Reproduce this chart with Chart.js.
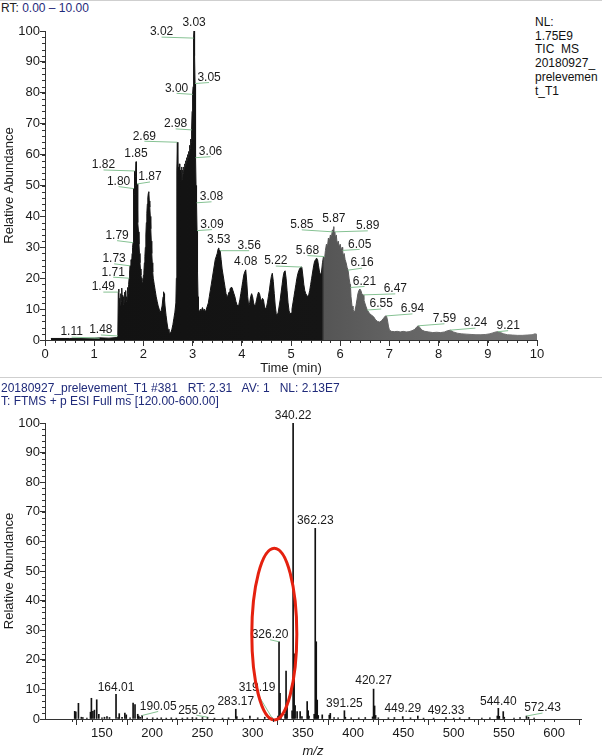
<!DOCTYPE html>
<html>
<head>
<meta charset="utf-8">
<script src="https://cdn.jsdelivr.net/npm/chart.js@4.4.0/dist/chart.umd.min.js"></script>
<style>
  body { margin: 0; background: #fff; font-family: "Liberation Sans", Arial, sans-serif; }
  #wrap { position: relative; width: 602px; height: 755px; overflow: hidden; }
  .txt { position: absolute; font-size: 12px; white-space: pre; line-height: 14px; color: #1f2a7a; }
  .rule { position: absolute; left: 0; width: 602px; height: 1px; background: #cfcfcf; }
  .box { position: absolute; left: 0; width: 602px; }
</style>
</head>
<body>
<div id="wrap">
  <div class="rule" style="top:0"></div>
  <div class="txt" style="left:1px;top:1px"><span style="color:#222">RT:</span> 0.00 – 10.00</div>
  <div class="txt" style="left:535px;top:16px;color:#111;line-height:13.7px">NL:
1.75E9
TIC  MS
20180927_
prelevemen
t_T1</div>
  <div class="box" style="top:0;height:376px"><canvas id="tic" width="602" height="376"></canvas></div>
  <div class="rule" style="top:377px"></div>
  <div class="txt" style="left:1px;top:381px">20180927_prelevement_T1 #381   RT: 2.31   AV: 1   NL: 2.13E7</div>
  <div class="txt" style="left:1px;top:394px">T: FTMS + p ESI Full ms [120.00-600.00]</div>
  <div class="box" style="top:372px;height:387px"><canvas id="ms" width="602" height="387"></canvas></div>
</div>
<script>
// TIC chromatogram: [time (min), relative abundance]
const ticScan = [
  [0.12,0.5],[0.5,0.5],[1.0,0.6],[1.11,0.7],[1.3,0.6],[1.46,0.8],[1.48,1.3],
  [1.49,15.5],[1.50,16.5],[1.51,12],[1.52,13.5],[1.53,11],[1.54,15],[1.55,12.5],[1.56,16.8],[1.57,13],
  [1.58,14.5],[1.59,11.5],[1.60,14],[1.61,12],[1.62,15.5],[1.63,13],[1.64,16],[1.65,12.5],[1.66,14],
  [1.67,13],[1.68,17],[1.69,15],[1.70,18],[1.71,20],[1.72,22],[1.73,24],[1.74,22],[1.75,26],[1.76,24],
  [1.77,28],[1.78,30],[1.79,31.5],[1.80,49],[1.81,47],[1.82,54.7],[1.83,50],[1.84,53],[1.85,57.7],
  [1.86,48],[1.87,50.5],[1.88,42],[1.89,38],[1.90,35],[1.91,31],[1.92,28],[1.93,25],[1.94,23],[1.95,21],
  [1.96,20],[1.97,19],[1.98,18.5],[1.99,19],[2.00,21],[2.01,22],[2.02,25],[2.03,27],[2.04,30],[2.05,34],
  [2.06,38],[2.07,41],[2.08,44],[2.09,46],[2.10,47.5],[2.11,48],[2.12,45],[2.13,43],[2.14,40],[2.15,36],
  [2.16,32],[2.17,28],[2.18,25],[2.19,22],[2.20,20],[2.22,18],[2.24,16],[2.26,14],[2.28,12.5],[2.30,11],
  [2.32,10],[2.34,9],[2.36,9.5],[2.38,11],[2.40,14],[2.41,15.6],[2.42,15],[2.43,13],[2.44,11],[2.46,8],
  [2.48,5.5],[2.50,3.5],[2.52,2.5],[2.54,2.2],[2.56,2.5],[2.58,3.5],[2.60,5],[2.62,7],[2.64,9],[2.66,12],
  [2.67,20],[2.68,55],[2.69,64],[2.70,54],[2.71,56],[2.72,50],[2.73,57],[2.74,53],[2.75,55],[2.76,49],
  [2.77,54],[2.78,56],[2.79,52],[2.80,55],[2.81,54],[2.82,56],[2.83,55],[2.84,57],[2.85,56],[2.86,58],
  [2.87,57],[2.88,59],[2.89,58],[2.90,60],[2.91,59],[2.92,61],[2.93,60],[2.94,63],[2.95,62],[2.96,65],
  [2.97,64],[2.98,68],[2.99,74],[3.00,79.5],[3.01,82],[3.02,97.7],[3.03,100],[3.04,92],[3.05,83],[3.06,59],
  [3.07,50],[3.08,44.4],[3.09,35.4],[3.10,22],[3.11,14],[3.12,10],[3.14,9],[3.16,10],[3.18,9.5],[3.20,10.5],
  [3.22,9.5],[3.24,10],[3.26,9],[3.28,10],[3.30,11],[3.32,12],[3.34,14],[3.36,16],[3.38,18],[3.40,20],
  [3.42,22],[3.44,24],[3.46,26],[3.48,27],[3.50,28],[3.52,29.5],[3.53,29.8],[3.54,29],[3.56,28.9],[3.58,26],
  [3.60,23],[3.62,21],[3.64,19],[3.66,17],[3.68,15],[3.70,14],[3.72,14.5],[3.74,15.5],[3.76,16.5],[3.78,17],
  [3.80,17],[3.82,16],[3.84,15],[3.86,14],[3.88,12.5],[3.90,11.5],[3.92,11],[3.94,11.5],[3.96,13],[3.98,15],
  [4.00,17],[4.02,19],[4.04,21],[4.06,22],[4.08,22.7],[4.10,19],[4.12,14],[4.14,11],[4.16,12],[4.18,14],
  [4.20,15],[4.22,14],[4.24,12],[4.26,11],[4.28,11.5],[4.30,13],[4.32,14.5],[4.34,15.5],[4.36,15],[4.38,13.5],
  [4.40,12.5],[4.42,13.5],[4.44,13],[4.46,11],[4.48,10],[4.50,10.5],[4.52,12],[4.54,14],[4.56,16],[4.58,18.5],
  [4.60,20.5],[4.62,21.6],[4.64,19],[4.66,15],[4.68,11],[4.70,8.5],[4.72,8],[4.74,9],[4.76,11],[4.78,13],
  [4.80,15.5],[4.82,18],[4.84,20.5],[4.86,22],[4.88,22.4],[4.90,20],[4.92,16],[4.94,12],[4.96,9.5],[4.98,8.5],
  [5.00,8.7],[5.02,10],[5.04,12],[5.06,14],[5.08,16],[5.10,18],[5.12,20],[5.14,21.5],[5.16,22.5],[5.18,23.2],
  [5.20,23.6],[5.22,23.6],[5.24,21],[5.26,18],[5.28,16],[5.30,15],[5.32,14.5],[5.34,14],[5.36,14.6],[5.38,16],
  [5.40,18],[5.42,20],[5.44,22],[5.46,24],[5.48,25.5],[5.50,26],[5.52,26.5],[5.54,26],[5.56,24],[5.58,22],
  [5.60,21],[5.62,22],[5.64,25],[5.66,27],[5.68,26],[5.70,29],[5.72,31],[5.74,30],[5.76,33],[5.78,32],
  [5.80,34],[5.82,33],[5.84,35.5],[5.85,35],[5.86,36],[5.87,36.7],[5.88,34],[5.89,35],[5.90,33],[5.92,34],
  [5.94,31],[5.96,32],[5.98,30],[6.00,31],[6.02,29],[6.04,30],[6.05,29],[6.06,27],[6.08,28],[6.10,26],
  [6.12,25],[6.14,23.5],[6.16,22.6],[6.18,20],[6.20,18],[6.21,17],[6.22,14],[6.24,11],[6.26,10],[6.28,9],
  [6.30,9.5],[6.32,11],[6.34,13],[6.36,15],[6.38,16],[6.40,16.5],[6.42,16],[6.44,15],[6.46,14.6],[6.47,14.6],
  [6.48,13],[6.50,12],[6.52,11],[6.55,9.7],[6.58,9],[6.60,8.5],[6.64,8],[6.68,7.5],[6.72,6.5],[6.76,6],
  [6.80,5.8],[6.84,6.2],[6.88,7],[6.92,7.8],[6.94,7.8],[6.96,6.5],[6.98,4.5],[7.00,3.2],[7.04,2.8],[7.10,2.7],
  [7.16,2.8],[7.22,2.6],[7.28,2.8],[7.34,2.6],[7.40,2.7],[7.46,3],[7.52,3.5],[7.56,4.3],[7.59,4.6],[7.62,4],
  [7.66,3.2],[7.72,2.8],[7.80,2.6],[7.88,2.4],[7.96,2.5],[8.04,2.4],[8.12,2.6],[8.18,3],[8.24,3.2],[8.30,2.6],
  [8.38,2.2],[8.46,2],[8.56,1.9],[8.66,1.8],[8.76,1.7],[8.86,1.7],[8.96,1.8],[9.04,2],[9.10,2.3],[9.16,2.6],
  [9.21,2.7],[9.26,2.4],[9.32,2],[9.40,1.7],[9.50,1.6],[9.60,1.5],[9.70,1.5],[9.80,1.6],[9.90,1.7],[9.96,2],
  [10.0,1.8]
];
// labelled retention times and the height the label points at
const ticTagTime = [1.11,1.48,1.49,1.71,1.73,1.79,1.80,1.82,1.85,1.87,2.69,2.98,3.00,3.02,3.03,3.05,3.06,3.08,
  3.09,3.53,3.56,4.08,5.22,5.68,5.85,5.87,5.89,6.05,6.16,6.21,6.47,6.55,6.94,7.59,8.24,9.21];
const ticTagHeight = [0.6,1.3,15.5,20,24,31.5,49,54.7,57.7,50.5,64,68,79.5,97.7,100,83,59,44.4,
  35.4,29.8,28.9,22.7,23.6,27,35,36.7,35,29,22.6,17,14.6,9.7,7.8,4.6,3.2,2.7];

// mass spectrum sticks: [m/z, relative abundance]
const msPeaks = [
  [122.9,2.6],[124.0,2.4],[126.6,5.3],[129.5,0.6],[131.0,0.5],[135.0,0.3],[138.6,2.3],[139.5,7.0],
  [141.0,2.6],[142.5,3.0],[144.8,6.5],[146.9,1.6],[150.0,0.4],[152.5,0.6],[155.0,0.8],[157.5,0.5],
  [164.01,8.3],[166.0,0.5],[167.2,1.8],[170.0,0.6],[172.8,2.0],[174.2,1.4],[178.0,0.4],[181.0,5.4],
  [182.9,4.9],[185.6,1.6],[186.6,1.0],[188.0,0.6],[190.05,1.2],[195,0.3],[200.5,0.4],[205,0.3],
  [209,0.4],[214,0.3],[219,0.4],[224,0.3],[230,0.3],[235,0.4],[240,0.5],[244,0.4],[250,0.5],
  [255.02,0.6],[262,0.3],[270,0.3],[276,0.4],[283.17,3.3],[284.2,0.8],[290,0.3],[297.2,1.0],
  [305,0.4],[312,0.6],[319.19,0.4],[325.2,1.0],[326.20,26.1],[327.2,8.7],[328.2,1.5],[332.2,1.6],
  [333.2,16.2],[334.2,4.2],[339.2,2.8],[340.22,100],[341.22,22],[342.2,4.5],[344.2,2.5],[347.2,2.5],
  [349,0.8],[354.2,5.9],[355.2,2.8],[356,1.0],[361.2,1.6],[362.23,64.4],[363.23,26.1],[364.2,6.4],
  [365.2,1.2],[369.2,1.4],[376.2,1.3],[377.2,1.9],[381,0.5],[385,0.4],[391.25,2.8],[392.2,0.6],
  [398,0.4],[405.5,0.4],[412,0.5],[419.3,0.7],[420.27,10.1],[421.27,4.4],[422.3,1.2],[425,0.4],
  [435,0.4],[441,0.5],[449.29,0.8],[457,0.4],[464.3,1.0],[470,0.3],[480,0.3],[492.33,0.5],[500,0.3],
  [506,0.4],[515.5,0.5],[528,0.3],[536,0.4],[543.4,1.0],[544.40,3.6],[545.4,0.9],[549.3,2.5],
  [550.3,0.6],[560,0.3],[566,0.5],[572.43,1.0],[574.4,0.6],[580,0.3]
];
const msTagMz = [164.01,190.05,255.02,283.17,319.19,326.20,340.22,362.23,391.25,420.27,449.29,492.33,544.40,572.43];

// label placement (pixels from the peak top to the label centre)
const ticTagOffset = [[-28,-6],[-17,-6],[-15,-5],[-16,-6],[-16,-7],[-16,-7],[-15,-7],[-31,-6],[0,-8],[13,-7],
  [-33,-6],[-16,-6],[-16,-6],[-32,-6],[0,-8],[14,-6],[15,-6],[15,-6],[15,-6],[0,-8],[29,-5],[0,-8],
  [-26,-6],[-17,-6],[-31,-7],[0,-8],[33,-6],[17,-6],[14,-7],[14,-6],[32,-6],[14,-6],[26,-7],[26,-7],[25,-7],[10,-6]];
const msTagOffset = [[0,-7],[16,-9],[-11,-7],[0,-7.5],[-15,-30],[-9,-7],[0,-7],[0,-7.5],[0,-7.5],[0,-8],
  [0,-8],[0,-7],[0,-7],[16,-8]];

const FONT = '"Liberation Sans", Arial, sans-serif';
const INK = '#1a1a1a';
const LEADER = '#86c293';

const tagPlugin = {
  id: 'tags',
  afterDatasetsDraw(chart, args, opts) {
    const { ctx, scales: { x, y } } = chart;
    ctx.save();
    ctx.font = '12px ' + FONT;
    ctx.textAlign = 'center';
    ctx.textBaseline = 'middle';
    opts.at.forEach((p, i) => {
      const px = x.getPixelForValue(p[0]);
      const py = y.getPixelForValue(p[1]);
      const [dx, dy] = opts.offsets[i];
      const tx = px + dx, ty = py + dy;
      if (Math.abs(dx) > 3) {
        ctx.strokeStyle = LEADER;
        ctx.lineWidth = 1;
        ctx.beginPath();
        ctx.moveTo(tx, ty + 5);
        ctx.lineTo(px, py);
        ctx.stroke();
      }
      ctx.fillStyle = INK;
      ctx.fillText(opts.text[i], tx, ty);
    });
    ctx.restore();
  }
};

// short ticks between the labelled ones
const minorTicks = {
  id: 'minorTicks',
  afterDraw(chart, args, opts) {
    const { ctx, chartArea: a, scales: { x, y } } = chart;
    ctx.save();
    ctx.strokeStyle = '#333';
    ctx.lineWidth = 1;
    ctx.beginPath();
    for (let v = x.min; v <= x.max + 1e-9; v += opts.x) {
      const px = Math.round(x.getPixelForValue(v)) + 0.5;
      ctx.moveTo(px, a.bottom);
      ctx.lineTo(px, a.bottom + 3);
    }
    for (let v = y.min; v <= y.max + 1e-9; v += opts.y) {
      const py = Math.round(y.getPixelForValue(v)) + 0.5;
      ctx.moveTo(a.left - 3, py);
      ctx.lineTo(a.left, py);
    }
    ctx.stroke();
    ctx.restore();
  }
};

const ellipse = {
  id: 'ellipse',
  afterDatasetsDraw(chart, args, opts) {
    const { ctx, scales: { x, y } } = chart;
    const cx = x.getPixelForValue(opts.mz), cy = y.getPixelForValue(opts.ab);
    const rx = x.getPixelForValue(opts.mz + opts.dmz) - cx;
    const ry = cy - y.getPixelForValue(opts.ab + opts.dab);
    ctx.save();
    ctx.strokeStyle = '#e5210f';
    ctx.lineWidth = 3;
    ctx.beginPath();
    ctx.ellipse(cx, cy, rx, ry, 0, 0, Math.PI * 2);
    ctx.stroke();
    ctx.restore();
  }
};

function axes(xmin, xmax, xstep, xtitle, xheight, italic) {
  return {
    x: {
      type: 'linear', min: xmin, max: xmax,
      // labelled ticks only on round multiples of the step
      afterBuildTicks: s => {
        const out = [];
        for (let v = Math.ceil(xmin / xstep) * xstep; v <= xmax + 1e-9; v += xstep) out.push({ value: v });
        s.ticks = out;
      },
      ticks: { stepSize: xstep, autoSkip: false, maxRotation: 0, color: INK, font: { family: FONT, size: 13 }, padding: 1 },
      grid: { drawOnChartArea: false, tickLength: 6, color: '#333' },
      border: { color: '#333' },
      title: { display: true, text: xtitle, color: INK, padding: { top: 0, bottom: 0 },
        font: { family: FONT, size: 13, style: italic ? 'italic' : 'normal' } },
      afterFit: s => { s.height = xheight; }
    },
    y: {
      min: 0, max: 100,
      ticks: { stepSize: 10, color: INK, font: { family: FONT, size: 13 }, padding: 0 },
      grid: { drawOnChartArea: false, tickLength: 5, color: '#333' },
      border: { color: '#333' },
      title: { display: true, text: 'Relative Abundance', color: INK, padding: { top: 2, bottom: 0 },
        font: { family: FONT, size: 13 } },
      afterFit: s => { s.width = 45; }
    }
  };
}

function ticFill(ctx) {
  const chart = ctx.chart;
  const a = chart.chartArea;
  if (!a) return '#111';
  const sx = chart.scales.x;
  const f = v => (sx.getPixelForValue(v) - a.left) / (a.right - a.left);
  const g = chart.ctx.createLinearGradient(a.left, 0, a.right, 0);
  g.addColorStop(0, '#111');
  g.addColorStop(f(5.62), '#151515');
  g.addColorStop(f(5.68), '#555');
  g.addColorStop(f(7.0), '#626262');
  g.addColorStop(1, '#777');
  return g;
}

new Chart(document.getElementById('tic'), {
  type: 'line',
  data: {
    datasets: [{
      data: ticScan.map(p => ({ x: p[0], y: p[1] })),
      borderColor: ticFill,
      backgroundColor: ticFill,
      borderWidth: 1,
      pointRadius: 0,
      fill: 'origin',
      tension: 0
    }]
  },
  options: {
    responsive: false,
    animation: false,
    layout: { padding: { top: 31, right: 65, left: 0, bottom: 0 } },
    scales: axes(0, 10, 1, 'Time (min)', 36, false),
    plugins: {
      legend: { display: false },
      tooltip: { enabled: false },
      tags: { at: ticTagTime.map((t, i) => [t, ticTagHeight[i]]), text: ticTagTime.map(t => t.toFixed(2)), offsets: ticTagOffset },
      minorTicks: { x: 0.2, y: 2 }
    }
  },
  plugins: [tagPlugin, minorTicks]
});

const msHeight = mz => msPeaks.find(p => p[0] === mz)[1];

new Chart(document.getElementById('ms'), {
  type: 'bar',
  data: {
    datasets: [{
      data: msPeaks.map(p => ({ x: p[0], y: p[1] })),
      backgroundColor: '#111',
      barThickness: 1,
      borderWidth: 0
    }]
  },
  options: {
    responsive: false,
    animation: false,
    layout: { padding: { top: 51, right: 21, left: 0, bottom: 0 } },
    scales: axes(120, 600, 50, 'm/z', 40, true),
    plugins: {
      legend: { display: false },
      tooltip: { enabled: false },
      tags: { at: msTagMz.map(m => [m, msHeight(m)]), text: msTagMz.map(m => m.toFixed(2)), offsets: msTagOffset },
      minorTicks: { x: 10, y: 2 },
      ellipse: { mz: 321.5, ab: 28.7, dmz: 22.4, dab: 29 }
    }
  },
  plugins: [tagPlugin, minorTicks, ellipse]
});
</script>
</body>
</html>
